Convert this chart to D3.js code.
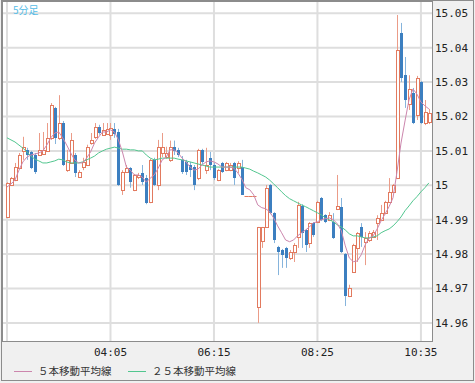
<!DOCTYPE html>
<html><head><meta charset="utf-8">
<script src="https://cdn.jsdelivr.net/npm/d3@7"></script>
<style>body{margin:0;background:#fff}svg{display:block}</style>
</head><body>
<svg id="chart" width="475" height="383"></svg>
<script>
// ---- data (5-minute candles) ----
const startTime = "01:55";
const open  = [14.9909,15.0001,15.0015,15.0050,15.0100,15.0103,15.0097,15.0088,15.0088,15.0091,
               15.0100,15.0138,15.0225,15.0138,15.0181,15.0044,15.0065,15.0088,15.0024,15.0053,
               15.0059,15.0124,15.0141,15.0170,15.0147,15.0150,15.0147,15.0164,15.0155,14.9986,
               15.0039,15.0050,14.9986,15.0024,15.0036,15.0021,14.9951,15.0074,15.0001,15.0094,
               15.0082,15.0074,15.0112,15.0103,15.0074,15.0068,15.0059,15.0053,15.0021,15.0103,
               15.0044,15.0080,15.0059,15.0015,15.0065,15.0044,15.0044,15.0065,15.0050,15.0053,
               14.9970,14.9970,14.9970,14.9647,14.9838,14.9879,15.0001,14.9919,14.9821,14.9812,
               14.9818,14.9789,14.9806,14.9850,14.9940,14.9870,14.9832,14.9890,14.9893,14.9963,
               14.9913,14.9899,14.9893,14.9931,14.9937,14.9800,14.9678,14.9748,14.9818,14.9879,
               14.9835,14.9841,14.9850,14.9890,14.9899,14.9919,14.9952,14.9981,15.0021,15.0443,
               15.0320,15.0236,15.0268,15.0204,15.0300,15.0181,15.0184];
const high  = [15.0009,15.0024,15.0065,15.0094,15.0141,15.0109,15.0100,15.0094,15.0152,15.0155,
               15.0181,15.0239,15.0228,15.0262,15.0187,15.0103,15.0152,15.0094,15.0044,15.0080,
               15.0118,15.0152,15.0181,15.0176,15.0181,15.0181,15.0181,15.0181,15.0164,15.0044,
               15.0059,15.0053,15.0033,15.0036,15.0059,15.0030,15.0077,15.0080,15.0132,15.0152,
               15.0112,15.0130,15.0130,15.0109,15.0085,15.0074,15.0068,15.0059,15.0106,15.0106,
               15.0109,15.0097,15.0065,15.0047,15.0068,15.0068,15.0065,15.0068,15.0070,15.0074,
               14.9970,14.9970,14.9970,14.9879,14.9879,15.0001,15.0004,14.9922,14.9824,14.9815,
               14.9821,14.9812,14.9832,14.9952,14.9945,14.9873,14.9893,14.9893,14.9955,14.9966,
               14.9916,14.9922,14.9919,15.0030,14.9963,14.9803,14.9711,14.9830,14.9864,14.9890,
               14.9864,14.9867,14.9870,14.9913,14.9943,14.9955,15.0021,15.0004,15.0495,15.0472,
               15.0373,15.0320,15.0283,15.0318,15.0303,15.0248,15.0222];
const low   = [14.9906,14.9998,15.0012,15.0047,15.0074,15.0074,15.0047,15.0033,15.0085,15.0088,
               15.0097,15.0132,15.0120,15.0132,15.0056,15.0039,15.0062,15.0024,15.0021,15.0044,
               15.0056,15.0118,15.0135,15.0147,15.0144,15.0147,15.0132,15.0138,14.9998,14.9972,
               15.0036,14.9993,14.9983,15.0018,15.0001,14.9945,14.9948,14.9998,14.9986,15.0082,
               15.0077,15.0068,15.0088,15.0082,15.0033,15.0030,15.0024,14.9986,15.0015,15.0062,
               15.0033,15.0044,15.0015,15.0012,15.0036,15.0041,15.0041,15.0001,15.0036,14.9972,
               14.9970,14.9970,14.9970,14.9600,14.9818,14.9879,14.9916,14.9832,14.9739,14.9760,
               14.9760,14.9783,14.9777,14.9818,14.9818,14.9806,14.9818,14.9850,14.9890,14.9896,
               14.9890,14.9896,14.9844,14.9928,14.9803,14.9649,14.9675,14.9745,14.9777,14.9821,
               14.9768,14.9835,14.9847,14.9841,14.9896,14.9916,14.9949,14.9978,15.0018,15.0300,
               15.0225,15.0219,15.0178,15.0190,15.0178,15.0175,15.0178];
const close = [15.0006,15.0021,15.0053,15.0088,15.0112,15.0088,15.0050,15.0039,15.0103,15.0103,
               15.0138,15.0233,15.0138,15.0181,15.0059,15.0074,15.0132,15.0036,15.0039,15.0068,
               15.0112,15.0132,15.0170,15.0152,15.0161,15.0164,15.0167,15.0150,15.0001,15.0039,
               15.0050,15.0009,15.0030,15.0030,15.0009,14.9948,15.0074,15.0001,15.0112,15.0112,
               15.0094,15.0112,15.0100,15.0088,15.0039,15.0039,15.0044,15.0001,15.0103,15.0068,
               15.0059,15.0059,15.0021,15.0044,15.0039,15.0065,15.0059,15.0021,15.0065,14.9972,
               14.9970,14.9970,14.9970,14.9879,14.9879,14.9992,14.9919,14.9841,14.9806,14.9797,
               14.9789,14.9806,14.9827,14.9943,14.9861,14.9827,14.9890,14.9855,14.9952,14.9899,
               14.9893,14.9913,14.9847,14.9940,14.9806,14.9678,14.9702,14.9827,14.9861,14.9850,
               14.9847,14.9861,14.9864,14.9905,14.9919,14.9952,14.9981,15.0001,15.0393,15.0312,
               15.0248,15.0280,15.0181,15.0312,15.0181,15.0213,15.0210];
const ma5   = [14.9995,15.0004,15.0015,15.0044,15.0068,15.0082,15.0088,15.0091,15.0094,15.0100,
               15.0117,15.0138,15.0152,15.0155,15.0138,15.0117,15.0094,15.0074,15.0065,15.0065,
               15.0079,15.0097,15.0123,15.0140,15.0155,15.0155,15.0161,15.0155,15.0132,15.0097,
               15.0053,15.0044,15.0030,15.0030,15.0024,15.0009,15.0021,15.0030,15.0050,15.0074,
               15.0082,15.0103,15.0103,15.0094,15.0079,15.0068,15.0053,15.0044,15.0047,15.0059,
               15.0068,15.0071,15.0068,15.0062,15.0053,15.0053,15.0053,15.0050,15.0036,15.0018,
               14.9993,14.9987,14.9972,14.9943,14.9935,14.9932,14.9923,14.9905,14.9882,14.9862,
               14.9841,14.9836,14.9841,14.9853,14.9862,14.9870,14.9879,14.9891,14.9894,14.9900,
               14.9903,14.9905,14.9900,14.9888,14.9868,14.9824,14.9789,14.9778,14.9780,14.9798,
               14.9827,14.9847,14.9853,14.9873,14.9897,14.9917,14.9938,14.9964,15.0040,15.0123,
               15.0187,15.0248,15.0280,15.0265,15.0242,15.0231,15.0222];
const ma25  = [15.0138,15.0132,15.0126,15.0117,15.0108,15.0097,15.0085,15.0076,15.0071,15.0065,
               15.0065,15.0068,15.0071,15.0076,15.0074,15.0068,15.0065,15.0065,15.0065,15.0068,
               15.0074,15.0079,15.0085,15.0094,15.0100,15.0105,15.0108,15.0111,15.0108,15.0105,
               15.0105,15.0103,15.0103,15.0100,15.0100,15.0088,15.0079,15.0074,15.0076,15.0079,
               15.0079,15.0079,15.0079,15.0076,15.0074,15.0071,15.0068,15.0065,15.0062,15.0059,
               15.0056,15.0053,15.0053,15.0053,15.0053,15.0053,15.0053,15.0053,15.0053,15.0053,
               15.0050,15.0047,15.0041,15.0036,15.0030,15.0024,15.0015,15.0004,14.9993,14.9981,
               14.9970,14.9961,14.9955,14.9949,14.9943,14.9938,14.9932,14.9926,14.9920,14.9914,
               14.9905,14.9900,14.9894,14.9885,14.9879,14.9870,14.9859,14.9853,14.9853,14.9850,
               14.9847,14.9847,14.9850,14.9853,14.9862,14.9868,14.9873,14.9882,14.9894,14.9908,
               14.9926,14.9940,14.9955,14.9967,14.9981,14.9993,15.0007];
const yTicks      = [14.96,14.97,14.98,14.99,15.00,15.01,15.02,15.03,15.04,15.05];
const yTickLabels = ["14.96","14.97","14.98","14.99","15","15.01","15.02","15.03","15.04","15.05"];
const xGridTimes  = ["01:55","04:05","06:15","08:25","10:35"];
const xTickLabels = ["04:05","06:15","08:25","10:35"];
const seriesNames = ["５本移動平均線","２５本移動平均線"];
const chartTitle  = "5分足";

// ---- categories (bar times) ----
const parseT = d3.timeParse("%H:%M"), fmtT = d3.timeFormat("%H:%M");
const t0 = parseT(startTime);
const times = close.map((_, i) => fmtT(d3.timeMinute.offset(t0, 5 * i)));
const n = times.length;

// ---- layout ----
const W = 475, H = 383;
const P = {l: 2, t: 1, r: 432, b: 341};
const svg = d3.select("#chart");

const x = d3.scalePoint().domain(times).range([7, 7 + 3.98 * (n - 1)]);
const y = d3.scaleLinear().domain([14.96, 15.05]).range([322.9, 13.3]);

// backgrounds
svg.append("rect").attr("x", 0).attr("y", 0).attr("width", W).attr("height", H).attr("fill", "#f0f0f0");
svg.append("rect").attr("x", 1.5).attr("y", 0.5).attr("width", 472).attr("height", 380)
   .attr("fill", "none").attr("stroke", "#8c8c8c");
svg.append("rect").attr("x", P.l + 0.5).attr("y", P.t + 0.5).attr("width", P.r - P.l).attr("height", P.b - P.t)
   .attr("fill", "#fff");

svg.append("defs").append("clipPath").attr("id", "clip")
   .append("rect").attr("x", P.l + 1).attr("y", P.t + 1).attr("width", P.r - P.l - 1).attr("height", P.b - P.t - 1);

const plot = svg.append("g").attr("clip-path", "url(#clip)");

// grid
plot.selectAll("line.hg").data(yTicks).join("line")
  .attr("x1", P.l).attr("x2", P.r)
  .attr("y1", d => y(d)).attr("y2", d => y(d))
  .attr("stroke", "#dedede").attr("stroke-width", 2);
plot.selectAll("line.vg").data(xGridTimes).join("line")
  .attr("x1", d => x(d)).attr("x2", d => x(d))
  .attr("y1", P.t).attr("y2", P.b)
  .attr("stroke", "#dedede").attr("stroke-width", 2);

// candles
const idx = d3.range(n);
const upC = "#e27a5f", upWick = "#eb9c88", dnC = "#3c7fc0", dnWick = "#86b4dc";
const px = i => Math.round(x(times[i]));
const cg = plot.append("g");
idx.forEach(i => {
  const cx = px(i);
  const up = close[i] >= open[i];
  const flat = close[i] === open[i] && high[i] === low[i];
  if (flat) {
    cg.append("line").attr("x1", cx - 1.5).attr("x2", cx + 2.5)
      .attr("y1", Math.round(y(close[i])) + 0.5).attr("y2", Math.round(y(close[i])) + 0.5)
      .attr("stroke", upC).attr("stroke-width", 1);
    return;
  }
  cg.append("line").attr("x1", cx + 0.5).attr("x2", cx + 0.5)
    .attr("y1", y(high[i])).attr("y2", y(low[i]))
    .attr("stroke", up ? upWick : dnWick).attr("stroke-width", 1);
  const yt = Math.round(y(Math.max(open[i], close[i])));
  const yb = Math.round(y(Math.min(open[i], close[i])));
  if (up) {
    cg.append("rect").attr("x", cx - 0.5).attr("y", yt + 0.5)
      .attr("width", 3).attr("height", Math.max(yb - yt, 1))
      .attr("fill", "#fff").attr("stroke", upC).attr("stroke-width", 1);
  } else {
    cg.append("rect").attr("x", cx - 1).attr("y", yt)
      .attr("width", 3).attr("height", Math.max(yb - yt, 1))
      .attr("fill", dnC);
  }
});

// moving averages
const line5 = d3.line().x(i => x(times[i])).y(i => y(ma5[i]));
const line25 = d3.line().x(i => x(times[i])).y(i => y(ma25[i]));
const c5 = "#cc86ad", c25 = "#52c68f";
plot.append("path").attr("d", line25(idx)).attr("fill", "none").attr("stroke", c25).attr("stroke-width", 1);
plot.append("path").attr("d", line5(idx)).attr("fill", "none").attr("stroke", c5).attr("stroke-width", 1);

// plot border
svg.append("rect").attr("x", P.l + 0.5).attr("y", P.t + 0.5).attr("width", P.r - P.l).attr("height", P.b - P.t)
   .attr("fill", "none").attr("stroke", "#8c8c8c");

// title
svg.append("text").attr("x", 13).attr("y", 14).text(chartTitle)
   .attr("font-family", "'Noto Sans CJK JP', sans-serif").attr("font-size", 10).attr("fill", "#55bde8");

// y axis labels (right)
svg.selectAll("text.yl").data(yTicks).join("text")
  .attr("x", 435).attr("y", d => y(d)).attr("dy", "0.35em")
  .text((d, i) => yTickLabels[i])
  .attr("font-family", "'DejaVu Sans Mono', monospace").attr("font-size", 11).attr("fill", "#222");

// x axis labels
svg.selectAll("text.xl").data(xTickLabels).join("text")
  .attr("x", d => x(d)).attr("y", 352).attr("dy", "0.35em").attr("text-anchor", "middle")
  .text(d => d)
  .attr("font-family", "'DejaVu Sans Mono', monospace").attr("font-size", 11).attr("fill", "#222");

// legend
const lg = [{c: c5, lx: 14, tx: 38}, {c: c25, lx: 128, tx: 152}];
lg.forEach((d, i) => {
  svg.append("line").attr("x1", d.lx).attr("x2", d.lx + 18).attr("y1", 371.5).attr("y2", 371.5)
     .attr("stroke", d.c).attr("stroke-width", 1);
  svg.append("text").attr("x", d.tx).attr("y", 371).attr("dy", "0.35em").text(seriesNames[i])
     .attr("font-family", "'Noto Sans CJK JP', sans-serif").attr("font-size", 10.5).attr("fill", "#333");
});
</script>
</body></html>
